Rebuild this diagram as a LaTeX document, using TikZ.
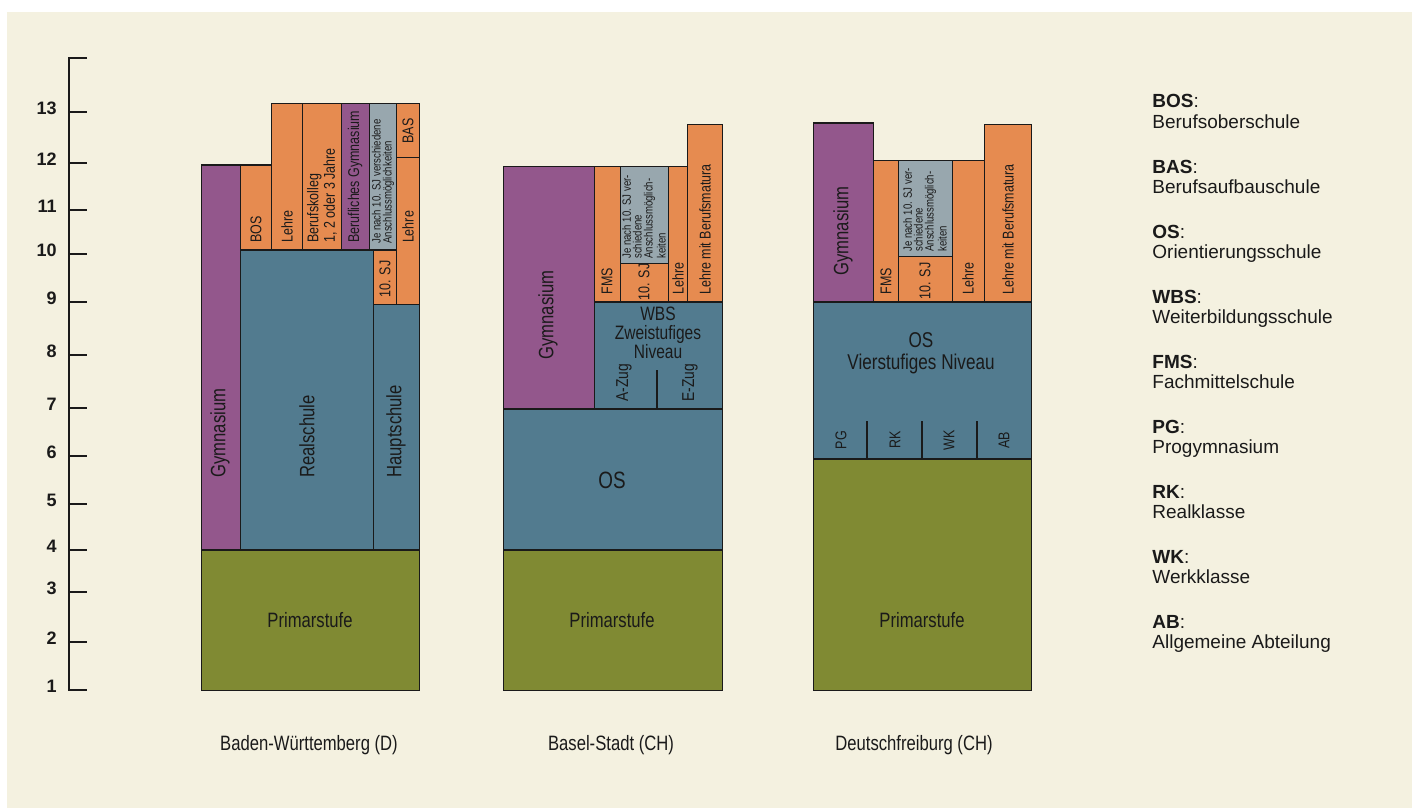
\documentclass[tikz,border=0pt]{standalone}
\usepackage{fontspec}
\setmainfont{Liberation Sans}
\newfontfamily\schmal[FakeStretch=0.8]{Liberation Sans}
\definecolor{creme}{HTML}{F4F1E0}
\definecolor{lila}{HTML}{93578C}
\definecolor{blaugrau}{HTML}{527B8F}
\definecolor{oliv}{HTML}{808A33}
\definecolor{orangeton}{HTML}{E68B50}
\definecolor{grauton}{HTML}{98A7AE}
\definecolor{schrift}{HTML}{1A1A1A}
\begin{document}
\begin{tikzpicture}[x=0.5pt, y=-0.5pt, line join=miter, font=\schmal\fontsize{10.4}{11}\selectfont, text=schrift]
	\tikzset{
		feld/.style={draw=schrift, line width=0.5pt},
		balken/.style={draw=schrift, line width=1.3pt, line cap=butt},
		hoch/.style={rotate=90, inner sep=0pt},
		unten/.style={hoch, anchor=west},
		mittel/.style={font=\schmal\fontsize{7.8}{7}\selectfont, align=left},
		klein/.style={font=\schmal\fontsize{6}{5.4}\selectfont, align=left},
		legende/.style={font=\fontsize{9.5}{10}\selectfont, anchor=base west, inner sep=0pt}
	}
	\useasboundingbox (0,0) rectangle (1412,808);
	\fill[white] (0,0) rectangle (1412,808);
	\fill[creme] (7,12) rectangle (1412,808);
	
	% ACHSE (SCHULJAHRE)
	\draw[schrift, line width=0.7pt] (87,58) -- (69,58) -- (69,690) -- (87,690);
	\foreach \y/\n in {112/13, 163/12, 210/11, 254/10, 302/9, 355/8, 408/7, 456/6, 504/5, 550/4, 592/3, 642/2, 690/1} {
		\draw[schrift, line width=0.7pt] (69,\y) -- (87,\y);
		\node[anchor=east, inner sep=0pt, font=\bfseries\fontsize{9}{9}\selectfont] (jahr\n) at (57,\y-4) {\n};
	}
	
	% BADEN-WÜRTTEMBERG
	\foreach \xa/\ya/\xb/\yb/\farbe in {
		201/550/419/690/oliv,
		201/165/240/550/lila,
		240/250/373/550/blaugrau,
		373/304/419/550/blaugrau,
		240/165/271/250/orangeton,
		271/104/302/250/orangeton,
		302/104/341/250/orangeton,
		341/104/369/250/lila,
		369/104/396/250/grauton,
		396/104/419/157/orangeton,
		396/157/419/304/orangeton,
		373/250/396/304/orangeton%
	} {
		\draw[feld, fill=\farbe] (\xa,\ya) rectangle (\xb,\yb);
	}
	\draw[balken] (201,165) -- (271,165);
	\draw[balken] (240,250) -- (396,250);
	\draw[balken] (201,550) -- (419,550);
	\node (bwprim) at (310,620) {Primarstufe};
	\node[unten] (bwgym) at (220,478) {Gymnasium};
	\node[unten] (bwreal) at (307,478) {Realschule};
	\node[unten] (bwhaupt) at (396,478) {Hauptschule};
	\node[unten, mittel] (bwbos) at (256,243) {BOS};
	\node[unten, mittel] (bwlehre) at (287,243) {Lehre};
	\node[unten, mittel] (bwkolleg) at (322,243) {Berufskolleg\\1, 2 oder 3 Jahre};
	\node[unten, mittel] (bwbgym) at (355,243) {Berufliches Gymnasium};
	\node[unten, klein] (bwje) at (383,244) {Je nach 10. SJ verschiedene\\Anschlussmöglichkeiten};
	\node[hoch, mittel] (bwbas) at (408,131) {BAS};
	\node[hoch, mittel] (bwlehrebas) at (408,227) {Lehre};
	\node[hoch, mittel] (bwsj) at (385,279) {10. SJ};
	\node (bwtitel) at (309,745) {Baden-Württemberg (D)};
	
	% BASEL-STADT
	\foreach \xa/\ya/\xb/\yb/\farbe in {
		503/550/722/690/oliv,
		503/409/722/550/blaugrau,
		594/302/722/409/blaugrau,
		503/166/594/409/lila,
		594/166/620/302/orangeton,
		620/166/668/263/grauton,
		620/263/668/302/orangeton,
		668/166/687/302/orangeton,
		687/124/722/302/orangeton%
	} {
		\draw[feld, fill=\farbe] (\xa,\ya) rectangle (\xb,\yb);
	}
	\draw[balken] (594,302) -- (722,302);
	\draw[balken] (503,409) -- (722,409);
	\draw[balken] (503,550) -- (722,550);
	\coordinate (bszug) at (657,370);
	\draw[balken] (bszug) -- (657,409);
	\node (bsprim) at (612,620) {Primarstufe};
	\node[font=\schmal\fontsize{11.8}{12}\selectfont] (bsos) at (612,480) {OS};
	\node[unten] (bsgym) at (548,360) {Gymnasium};
	\node[align=center, font=\schmal\fontsize{9.7}{9.6}\selectfont] (bswbs) at (658,333) {WBS\\Zweistufiges\\Niveau};
	\node[unten, font=\schmal\fontsize{8.6}{8}\selectfont] (bsazug) at (624,402) {A-Zug};
	\node[unten, font=\schmal\fontsize{8.6}{8}\selectfont] (bsezug) at (690,402) {E-Zug};
	\node[unten, mittel] (bsfms) at (607,295) {FMS};
	\node[unten, klein] (bsje) at (644,259) {Je nach 10. SJ ver-\\schiedene\\Anschlussmöglich-\\keiten};
	\node[hoch, mittel] (bssj) at (644,282) {10. SJ};
	\node[unten, mittel] (bslehre) at (678,295) {Lehre};
	\node[unten, mittel] (bsmatura) at (705,295) {Lehre mit Berufsmatura};
	\node (bstitel) at (611,745) {Basel-Stadt (CH)};
	
	% DEUTSCHFREIBURG
	\foreach \xa/\ya/\xb/\yb/\farbe in {
		813/459/1031/690/oliv,
		813/302/1031/459/blaugrau,
		813/123/873/302/lila,
		873/160/898/302/orangeton,
		898/160/952/256/grauton,
		898/256/952/302/orangeton,
		952/160/984/302/orangeton,
		984/124/1031/302/orangeton%
	} {
		\draw[feld, fill=\farbe] (\xa,\ya) rectangle (\xb,\yb);
	}
	\draw[balken] (813,302) -- (1031,302);
	\draw[balken] (813,459) -- (1031,459);
	\foreach \x in {867,922,977} {
		\draw[balken] (\x,421) -- (\x,459);
	}
	\node (dfprim) at (922,620) {Primarstufe};
	\node[align=center, font=\schmal\fontsize{10.7}{11}\selectfont] (dfos) at (921,353) {OS\\Vierstufiges Niveau};
	\node[hoch] (dfgym) at (843,231) {Gymnasium};
	\node[unten, mittel] (dffms) at (886,295) {FMS};
	\node[unten, klein] (dfje) at (925,252) {Je nach 10. SJ ver-\\schiedene\\Anschlussmöglich-\\keiten};
	\node[hoch, mittel] (dfsj) at (925,281) {10. SJ};
	\node[unten, mittel] (dflehre) at (968,295) {Lehre};
	\node[unten, mittel] (dfmatura) at (1008,295) {Lehre mit Berufsmatura};
	\foreach \x/\k in {841/PG, 895/RK, 949/WK, 1004/AB} {
		\node[hoch, mittel] (df\k) at (\x,440) {\k};
	}
	\node (dftitel) at (914,745) {Deutschfreiburg (CH)};
	
	% LEGENDE
	\foreach \kurz/\lang [count=\i] in {BOS/Berufsoberschule, BAS/Berufsaufbauschule, OS/Orientierungsschule, WBS/Weiterbildungsschule, FMS/Fachmittelschule, PG/Progymnasium, RK/Realklasse, WK/Werkklasse, AB/Allgemeine Abteilung} {
		\node[legende] (kurz\i) at (1152,{108+65*(\i-1)}) {\textbf{\kurz}:};
		\node[legende] (lang\i) at (1152,{128+65*(\i-1)}) {\lang};
	}
\end{tikzpicture}
\end{document}
